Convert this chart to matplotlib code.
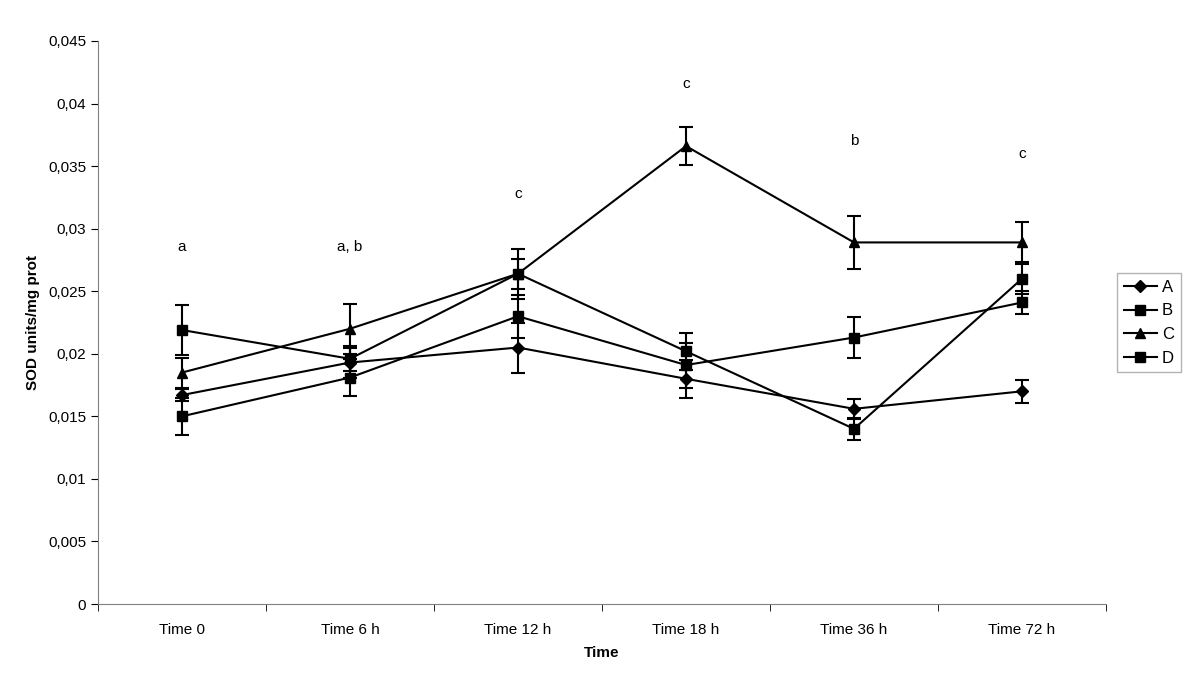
import numpy as np
import matplotlib.pyplot as plt
from matplotlib.lines import Line2D
from matplotlib.ticker import FixedLocator

plt.rcParams['font.family'] = ['Liberation Sans', 'DejaVu Sans']

times = ['Time 0', 'Time 6 h', 'Time 12 h', 'Time 18 h', 'Time 36 h', 'Time 72 h']

a_mean = [0.0167, 0.0193, 0.0205, 0.0180, 0.0156, 0.0170]
a_err = [0.0005, 0.0012, 0.0020, 0.0015, 0.0008, 0.0009]
b_mean = [0.0219, 0.0196, 0.0264, 0.0202, 0.0140, 0.0260]
b_err = [0.0020, 0.0010, 0.0012, 0.0015, 0.0009, 0.0012]
c_mean = [0.0185, 0.0220, 0.0264, 0.0366, 0.0289, 0.0289]
c_err = [0.0012, 0.0020, 0.0020, 0.0015, 0.0021, 0.0016]
d_mean = [0.0150, 0.0181, 0.0230, 0.0191, 0.0213, 0.0241]
d_err = [0.0015, 0.0015, 0.0017, 0.0018, 0.0016, 0.0009]

letters = ['a', 'a, b', 'c', 'c', 'b', 'c']
letter_y = [0.0285, 0.0285, 0.0328, 0.0416, 0.0370, 0.0360]

fig = plt.figure(figsize=(12, 6.73), dpi=100)
ax = fig.add_axes([98 / 1200, 69 / 673, 1008 / 1200, 563 / 673])

x = np.arange(len(times))
series = [('A', a_mean, a_err, 'D', 6), ('B', b_mean, b_err, 's', 7),
          ('C', c_mean, c_err, '^', 7), ('D', d_mean, d_err, 's', 7)]
handles = []
for name, m, e, mk, ms in series:
    ax.errorbar(x, m, yerr=e, color='black', lw=1.5, marker=mk, ms=ms,
                capsize=5, capthick=1.5, elinewidth=1.5)
    handles.append(Line2D([], [], color='black', lw=1.5, marker=mk, ms=ms, label=name))

for xi, txt, yy in zip(x, letters, letter_y):
    ax.text(xi, yy, txt, ha='center', va='center', fontsize=11)

ax.set_xlim(-0.5, 5.5)
ax.set_ylim(0, 0.045)
ax.set_yticks(np.arange(0, 0.0451, 0.005))
ax.set_yticklabels(['0'] + [('%g' % v).replace('.', ',') for v in np.arange(0.005, 0.0451, 0.005)])
ax.set_xticks(x)
ax.set_xticklabels(times)
ax.xaxis.set_minor_locator(FixedLocator(np.arange(-0.5, 5.6, 1)))
ax.tick_params(axis='x', which='major', length=0, pad=14, labelsize=11)
ax.tick_params(axis='x', which='minor', length=5, direction='out')
ax.tick_params(axis='y', length=5, direction='out', labelsize=11)

for s in ['top', 'right']:
    ax.spines[s].set_visible(False)
ax.spines['left'].set_color('#808080')
ax.spines['bottom'].set_color('#808080')

ax.set_xlabel('Time', fontsize=11, fontweight='bold', labelpad=6)
ax.set_ylabel('SOD units/mg prot', fontsize=11, fontweight='bold', labelpad=6)

leg = fig.legend(handles=handles, loc='upper left', bbox_to_anchor=(1117 / 1200, 1 - 273 / 673),
                 fontsize=12, frameon=True, fancybox=False, handlelength=2.0,
                 borderpad=0.4, labelspacing=0.52, handletextpad=0.3, borderaxespad=0)
leg.get_frame().set_edgecolor('#a0a0a0')
leg.get_frame().set_linewidth(1)

fig.savefig('out.png', dpi=100)
